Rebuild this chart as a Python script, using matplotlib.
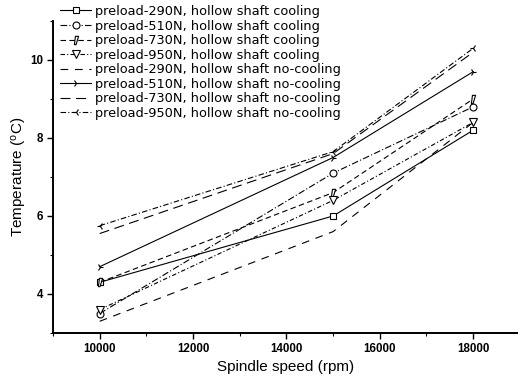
import matplotlib
matplotlib.use("Agg")
import matplotlib.pyplot as plt
from matplotlib.ticker import MultipleLocator

plt.rcParams['font.family'] = ['Liberation Sans', 'DejaVu Sans']
plt.rcParams['mathtext.default'] = 'regular'

speed = [10000, 15000, 18000]

labels = [
    "preload-290N, hollow shaft cooling",
    "preload-510N, hollow shaft cooling",
    "preload-730N, hollow shaft cooling",
    "preload-950N, hollow shaft cooling",
    "preload-290N, hollow shaft no-cooling",
    "preload-510N, hollow shaft no-cooling",
    "preload-730N, hollow shaft no-cooling",
    "preload-950N, hollow shaft no-cooling",
]

cool_290 = [4.3, 6.0, 8.2]
cool_510 = [3.5, 7.1, 8.8]
cool_730 = [4.3, 6.6, 9.0]
cool_950 = [3.6, 6.4, 8.4]
nocool_290 = [3.3, 5.6, 8.4]
nocool_510 = [4.7, 7.5, 9.7]
nocool_730 = [5.55, 7.6, 10.2]
nocool_950 = [5.75, 7.65, 10.3]

series = [cool_290, cool_510, cool_730, cool_950,
          nocool_290, nocool_510, nocool_730, nocool_950]

styles = [
    dict(ls='-', marker='s', ms=5),
    dict(ls=(0, (6, 2, 1, 2)), marker='o', ms=5),
    dict(ls=(0, (5, 3)), marker='$\\prime$', ms=6),
    dict(ls=(0, (4, 2, 1, 2)), marker='v', ms=6),
    dict(ls=(0, (7, 6)), marker='', ms=4),
    dict(ls='-', marker='4', ms=5),
    dict(ls=(0, (9, 5)), marker='', ms=4),
    dict(ls=(0, (5, 2, 1, 2)), marker='3', ms=5),
]

fig = plt.figure(figsize=(5.18, 3.84), dpi=100)
ax = fig.add_axes([53/518, 51/384, 465/518, 312/384])

handles = []
for vals, st, lab in zip(series, styles, labels):
    h, = ax.plot(speed, vals, color='black', lw=0.8, linestyle=st['ls'],
                 marker=st['marker'] if st['marker'] else None,
                 ms=st['ms'], mfc='white', mec='black', mew=0.8, label=lab)
    handles.append(h)

ax.set_xlim(9000, 18960)
ax.set_ylim(3, 11)
ax.xaxis.set_major_locator(MultipleLocator(2000))
ax.xaxis.set_minor_locator(MultipleLocator(1000))
ax.yaxis.set_minor_locator(MultipleLocator(1))
ax.set_yticks([4, 6, 8, 10])

for s in ['top', 'right']:
    ax.spines[s].set_visible(False)
for s in ['left', 'bottom']:
    ax.spines[s].set_linewidth(1.4)

ax.tick_params(which='major', direction='out', length=4, width=1.0,
               labelsize=8.3, pad=3)
ax.tick_params(which='minor', direction='out', length=2.5, width=0.8)
for t in ax.get_xticklabels() + ax.get_yticklabels():
    t.set_fontweight('bold')

ax.set_xlabel("Spindle speed (rpm)", fontsize=11, labelpad=4)
ax.set_ylabel("Temperature ($^{o}$C)", fontsize=11, labelpad=1)

fig.legend(handles=handles, loc='upper left',
           bbox_to_anchor=(60/518, 1 - 5/384), frameon=False,
           prop={'family': 'DejaVu Sans', 'size': 9.3},
           handlelength=2.4, handletextpad=0.3, labelspacing=0.12,
           borderpad=0.0, borderaxespad=0.0)

fig.savefig("out.png", dpi=100)
